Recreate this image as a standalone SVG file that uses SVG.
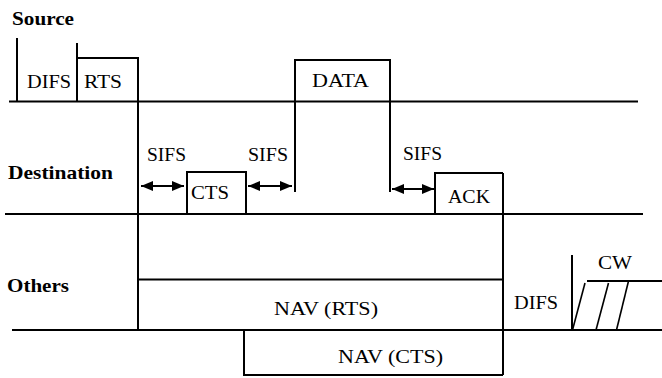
<svg xmlns="http://www.w3.org/2000/svg" width="662" height="378" viewBox="0 0 662 378">
<style>
  text { font-family: 'Liberation Serif', 'Times New Roman', 'DejaVu Serif', serif; font-size: 19.5px; fill: #000; }
  .b { font-weight: bold; }
  .ln { stroke: #000; stroke-width: 2; fill: none; }
  .th { stroke: #000; stroke-width: 1.6; fill: none; }
</style>
<defs>
  <marker id="ah" viewBox="0 0 12 10" refX="12" refY="5" markerWidth="12" markerHeight="10" markerUnits="userSpaceOnUse" orient="auto-start-reverse">
    <path d="M0,0 L12,5 L0,10 Z" fill="#000"/>
  </marker>
</defs>

<g id="labels">
  <text class="b" x="12" y="25" textLength="62" lengthAdjust="spacingAndGlyphs">Source</text>
  <text class="b" x="8" y="179" textLength="105" lengthAdjust="spacingAndGlyphs">Destination</text>
  <text class="b" x="7" y="292" textLength="62" lengthAdjust="spacingAndGlyphs">Others</text>
</g>

<g id="timelines">
  <line class="ln" x1="9" y1="101.5" x2="638" y2="101.5"/>
  <line class="ln" x1="5" y1="214" x2="643" y2="214"/>
  <line class="ln" x1="12" y1="330" x2="662" y2="330"/>
</g>

<g id="source-difs">
  <line class="ln" x1="17" y1="38" x2="17" y2="101"/>
  <text x="27" y="88" textLength="44" lengthAdjust="spacingAndGlyphs">DIFS</text>
</g>

<g id="rts">
  <polyline class="ln" points="77,43 77,58 138,58 138,101"/>
  <line class="ln" x1="77" y1="58" x2="77" y2="101"/>
  <text x="84" y="88" textLength="38" lengthAdjust="spacingAndGlyphs">RTS</text>
</g>

<g id="data">
  <polyline class="ln" points="295,192 295,60 390,60 390,192"/>
  <text x="312" y="87" textLength="57" lengthAdjust="spacingAndGlyphs">DATA</text>
</g>

<g id="cts">
  <polyline class="ln" points="187,214 187,172 246,172 246,214"/>
  <text x="191" y="198.5" textLength="38" lengthAdjust="spacingAndGlyphs">CTS</text>
</g>

<g id="ack">
  <polyline class="ln" points="435,214 435,173 503,173"/>
  <text x="448" y="203" textLength="42" lengthAdjust="spacingAndGlyphs">ACK</text>
</g>

<g id="nav-rts">
  <line class="ln" x1="138" y1="279.5" x2="503" y2="279.5"/>
  <text x="274" y="315" textLength="104" lengthAdjust="spacingAndGlyphs">NAV (RTS)</text>
</g>

<g id="nav-cts">
  <polyline class="ln" points="244,330 244,375 503,375"/>
  <text x="338" y="363" textLength="105" lengthAdjust="spacingAndGlyphs">NAV (CTS)</text>
</g>

<g id="others-difs-cw">
  <text x="514" y="308.5" textLength="44" lengthAdjust="spacingAndGlyphs">DIFS</text>
  <line class="ln" x1="572" y1="255" x2="572" y2="330"/>
  <line class="ln" x1="587" y1="281" x2="662" y2="281"/>
  <text x="598" y="268.5" textLength="34" lengthAdjust="spacingAndGlyphs">CW</text>
  <line class="th" x1="572.5" y1="330" x2="585" y2="283"/>
  <line class="th" x1="596" y1="330" x2="608.5" y2="283"/>
  <line class="th" x1="616.5" y1="330" x2="628.5" y2="281"/>
</g>

<g id="sifs-labels">
  <text x="147" y="161" textLength="39" lengthAdjust="spacingAndGlyphs">SIFS</text>
  <text x="248" y="161" textLength="40" lengthAdjust="spacingAndGlyphs">SIFS</text>
  <text x="403" y="160" textLength="39" lengthAdjust="spacingAndGlyphs">SIFS</text>
</g>

<g id="connectors">
  <line class="ln" x1="138" y1="101" x2="138" y2="330"/>
  <line class="ln" x1="503" y1="173" x2="503" y2="375"/>
  <line class="ln" x1="141" y1="186" x2="184" y2="186" marker-start="url(#ah)" marker-end="url(#ah)"/>
  <line class="ln" x1="248" y1="186" x2="292" y2="186" marker-start="url(#ah)" marker-end="url(#ah)"/>
  <line class="ln" x1="392" y1="189" x2="434" y2="189" marker-start="url(#ah)" marker-end="url(#ah)"/>
</g>
</svg>
